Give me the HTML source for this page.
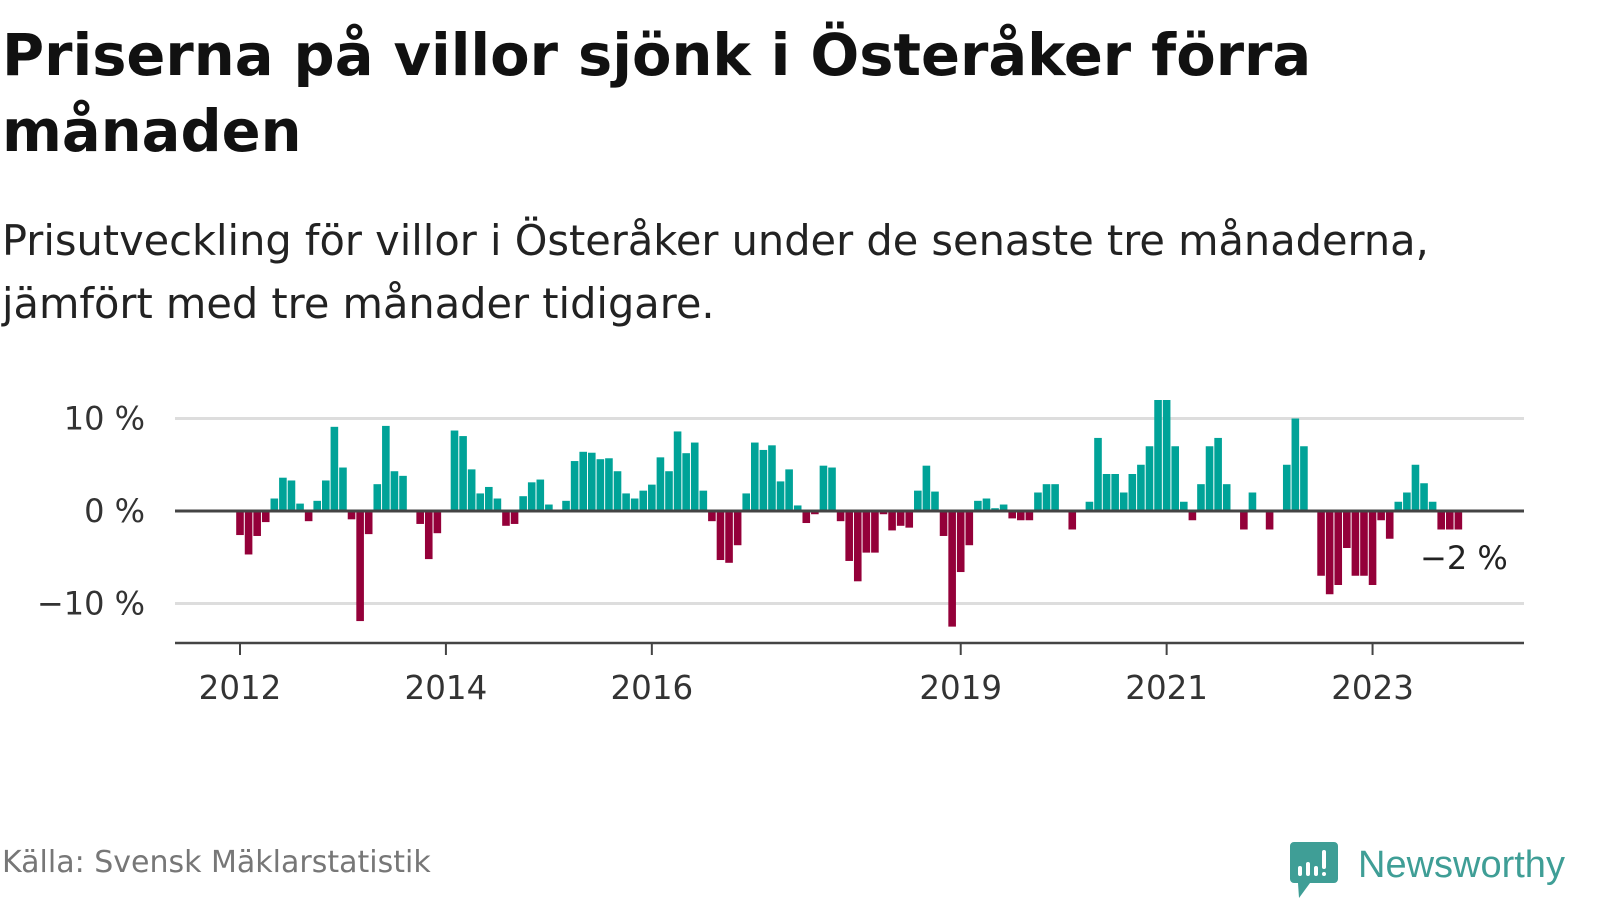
<!DOCTYPE html>
<html><head><meta charset="utf-8"><style>
html,body{margin:0;padding:0;background:#fff;width:1600px;height:900px;overflow:hidden;font-family:"Liberation Sans","DejaVu Sans",sans-serif}
</style></head><body>
<svg width="1600" height="900" viewBox="0 0 1600 900" xmlns="http://www.w3.org/2000/svg">
<text x="2" y="75" font-size="57.5" font-weight="bold" fill="#111" font-family="DejaVu Sans, sans-serif">Priserna på villor sjönk i Österåker förra</text>
<text x="2" y="151" font-size="57.5" font-weight="bold" fill="#111" font-family="DejaVu Sans, sans-serif">månaden</text>
<text x="2" y="255" font-size="41.5" fill="#222" font-family="DejaVu Sans, sans-serif">Prisutveckling för villor i Österåker under de senaste tre månaderna,</text>
<text x="2" y="318" font-size="41.5" fill="#222" font-family="DejaVu Sans, sans-serif">jämfört med tre månader tidigare.</text>
<g id="grid"></g>
<g id="bars"></g>
<g id="axes"></g>
<text x="1420" y="569" font-size="32" fill="#222" font-family="DejaVu Sans, sans-serif">−2 %</text>
<text x="2" y="872" font-size="30" fill="#777" font-family="DejaVu Sans, sans-serif">Källa: Svensk Mäklarstatistik</text>
<g>
<path d="M1294 842 h40 a4 4 0 0 1 4 4 v33 a4 4 0 0 1 -4 4 h-24 l-11 15 l-1 -15 h-4 a4 4 0 0 1 -4 -4 v-33 a4 4 0 0 1 4 -4z" fill="#3f9e96"/>
<rect x="1298" y="866" width="4" height="10" rx="2" fill="#fff"/>
<rect x="1306" y="862" width="4" height="14" rx="2" fill="#fff"/>
<rect x="1314" y="866" width="4" height="10" rx="2" fill="#fff"/>
<rect x="1322" y="850" width="4" height="19" rx="2" fill="#fff"/>
<rect x="1322" y="872" width="4" height="4" rx="2" fill="#fff"/>
<text x="1358" y="877" font-size="38" fill="#3f9e96" font-family="Liberation Sans, sans-serif">Newsworthy</text>
</g>
</svg>
<script>
const values = [-2.6,-4.7,-2.7,-1.2,1.35,3.6,3.3,0.8,-1.1,1.1,3.3,9.1,4.7,-0.9,-11.9,-2.5,2.9,9.2,4.3,3.8,null,-1.4,-5.2,-2.4,null,8.7,8.1,4.5,1.9,2.6,1.35,-1.6,-1.4,1.6,3.1,3.4,0.7,null,1.1,5.4,6.4,6.3,5.6,5.7,4.3,1.9,1.35,2.2,2.85,5.8,4.3,8.6,6.25,7.4,2.2,-1.1,-5.3,-5.6,-3.7,1.9,7.4,6.6,7.1,3.2,4.5,0.6,-1.3,-0.35,4.9,4.7,-1.1,-5.4,-7.6,-4.5,-4.5,-0.35,-2.1,-1.6,-1.8,2.2,4.9,2.1,-2.7,-12.5,-6.6,-3.7,1.1,1.35,0.3,0.7,-0.8,-1.0,-1.0,2.0,2.9,2.9,null,-2.0,null,1.0,7.9,4.0,4.0,2.0,4.0,5.0,7.0,12.0,12.0,7.0,1.0,-1.0,2.9,7.0,7.9,2.9,null,-2.0,2.0,null,-2.0,null,5.0,10.0,7.0,null,-7.0,-9.0,-8.0,-4.0,-7.0,-7.0,-8.0,-1.0,-3.0,1.0,2.0,5.0,3.0,1.0,-2.0,-2.0,-2.0];
const yTicks = [10,0,-10];
const yTickLabels = ["10 %","0 %","−10 %"];
const xTickYears = [2012,2014,2016,2019,2021,2023];
const NS="http://www.w3.org/2000/svg";
const x0=240, perMonth=8.58, y0=511, perPct=9.25, left=175, right=1524, axisY=643;
const xs = i => x0 + i*perMonth;
const ys = v => y0 - v*perPct;
function mk(tag, attrs, parent){const e=document.createElementNS(NS,tag);for(const k in attrs)e.setAttribute(k,attrs[k]);parent.appendChild(e);return e;}
const grid=document.getElementById('grid'), bars=document.getElementById('bars'), axes=document.getElementById('axes');
yTicks.forEach((t,i)=>{
  if(t!==0){const l=mk('line',{x1:left,x2:right,y1:ys(t),y2:ys(t),stroke:'#ddd','stroke-width':3},grid);
  
  }
  const tx=mk('text',{x:145,y:ys(t)+11,'text-anchor':'end','font-size':32,fill:'#333','font-family':'DejaVu Sans, sans-serif'},axes);
  tx.textContent=yTickLabels[i];
  
  
});
values.forEach((v,i)=>{
  if(v===null) return;
  const y=Math.min(ys(v),y0), h=Math.abs(ys(v)-y0);
  const r=mk('rect',{x:xs(i)-3.8,y:y,width:7.6,height:h,fill:v>=0?'#00a398':'#940039'},bars);
  
  
});
const zl=mk('line',{x1:left,x2:right,y1:y0,y2:y0,stroke:'#444','stroke-width':3},axes);


const xl=mk('line',{x1:left,x2:right,y1:axisY,y2:axisY,stroke:'#444','stroke-width':2.5},axes);


xTickYears.forEach(yr=>{
  const x=xs((yr-2012)*12);
  const tk=mk('line',{x1:x,x2:x,y1:axisY,y2:axisY+12,stroke:'#444','stroke-width':2},axes);
  
  
  const t=mk('text',{x:x,y:699,'text-anchor':'middle','font-size':32.5,fill:'#333','font-family':'DejaVu Sans, sans-serif'},axes);
  t.textContent=yr;
  
  
});
</script>
</body></html>
